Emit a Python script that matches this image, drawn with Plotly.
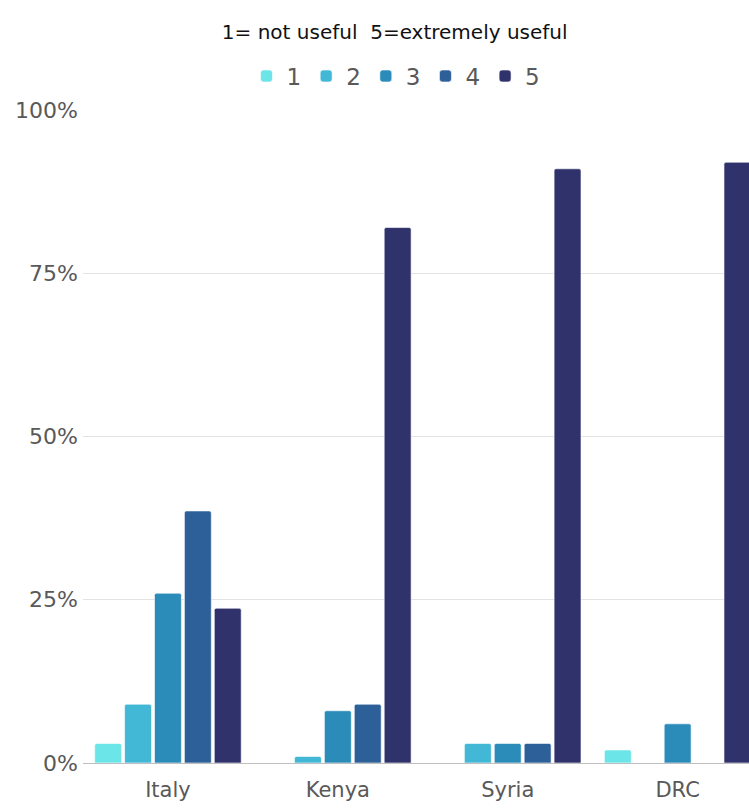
import plotly.graph_objects as go

countries = ["Italy", "Kenya", "Syria", "DRC"]
ratings = ["1", "2", "3", "4", "5"]
vals_1 = [3, 0, 0, 2]
vals_2 = [9, 1, 3, 0]
vals_3 = [26, 8, 3, 6]
vals_4 = [38.6, 9, 3, 0]
vals_5 = [23.7, 82, 91, 92]
colors = ["#6ce5e8", "#42b8d6", "#2b8bb9", "#2d5f98", "#30336b"]
y_ticks = [0, 25, 50, 75, 100]
y_tick_labels = ["0%", "25%", "50%", "75%", "100%"]

series = [vals_1, vals_2, vals_3, vals_4, vals_5]
fig = go.Figure()
for name, vals, col in zip(ratings, series, colors):
    fig.add_trace(go.Bar(
        x=countries, y=vals, name=name,
        marker=dict(color=col, line=dict(color="rgba(255,255,255,0.6)", width=1)),
    ))

font_family = "DejaVu Sans, sans-serif"
fig.update_layout(
    width=749, height=810,
    margin=dict(l=83, r=0, t=110, b=47),
    paper_bgcolor="white", plot_bgcolor="white",
    barmode="group", bargap=0.12, bargroupgap=0.1, barcornerradius=2,
    font=dict(family=font_family, color="#595959"),
    title=dict(text="1= not useful  5=extremely useful", x=0.527, xanchor="center",
               y=0.96, yanchor="middle",
               font=dict(size=20, color="#111111", family=font_family)),
    legend=dict(orientation="h", x=0.47, xanchor="center", y=1.052, yanchor="middle",
                font=dict(size=23, color="#595959"), itemwidth=30, traceorder="normal"),
    showlegend=True,
)
fig.update_xaxes(range=[-0.5, 3.42], showline=True, linecolor="#bfbfbf", linewidth=1,
                 ticks="", tickfont=dict(size=21, color="#595959"), showgrid=False,
                 ticklabelstandoff=8)
fig.update_yaxes(range=[0, 100], tickmode="array", tickvals=y_ticks, ticktext=y_tick_labels,
                 showgrid=True, gridcolor="#e3e3e3", gridwidth=1, zeroline=False,
                 tickfont=dict(size=22, color="#595959"), ticks="", ticklen=0,
                 ticklabelstandoff=4)

fig.write_html("out.html")
